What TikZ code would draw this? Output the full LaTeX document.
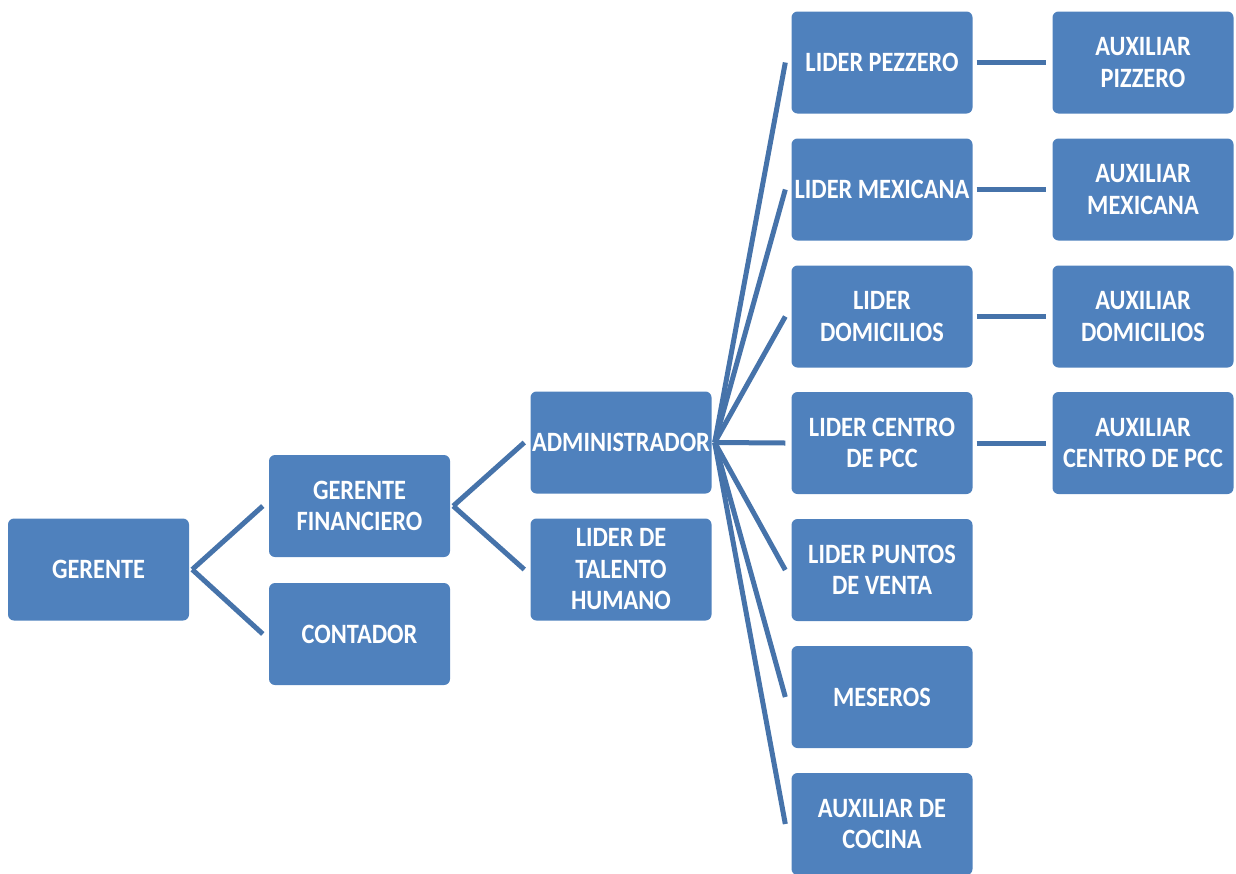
\documentclass[tikz,border=0pt]{standalone}
\usepackage{fontspec}
\newfontfamily\boxfont{Carlito}[FakeStretch=0.87]
\usetikzlibrary{calc}
\definecolor{boxblue}{HTML}{4F81BD}
\definecolor{linkblue}{HTML}{4673AA}
\tikzset{
  orgbox/.style={rectangle, rounded corners=6pt, fill=boxblue, draw=none,
    minimum width=181pt, minimum height=102pt, inner sep=0pt, text=white,
    align=center, font=\boxfont\bfseries\fontsize{28}{31.5}\selectfont},
  link/.style={draw=linkblue, line width=5pt}
}
\begin{document}
\begin{tikzpicture}[x=1pt,y=-1pt]
\useasboundingbox (0,0) rectangle (1236,873);
\clip (0,0) rectangle (1236,873);
% level 0-2
\node[orgbox] (ger) at (98.5,569.5) {GERENTE};
\node[orgbox] (gf) at (359.5,506) {GERENTE\\FINANCIERO};
\node[orgbox] (cont) at (359.5,634) {CONTADOR};
\node[orgbox] (adm) at (621,442.5) {ADMINISTRADOR};
\node[orgbox] (lth) at (621,569.5) {LIDER DE\\TALENTO\\HUMANO};
% column 3
\node[orgbox] (lp) at (882,62.5) {LIDER PEZZERO};
\node[orgbox] (lm) at (882,189.5) {LIDER MEXICANA};
\node[orgbox] (ld) at (882,316.5) {LIDER\\DOMICILIOS};
\node[orgbox] (lc) at (882,443) {LIDER CENTRO\\DE PCC};
\node[orgbox] (lpv) at (882,570) {LIDER PUNTOS\\DE VENTA};
\node[orgbox] (mes) at (882,697) {MESEROS};
\node[orgbox] (aco) at (882,824) {AUXILIAR DE\\COCINA};
% column 4
\node[orgbox] (ap) at (1143,62.5) {AUXILIAR\\PIZZERO};
\node[orgbox] (am) at (1143,189.5) {AUXILIAR\\MEXICANA};
\node[orgbox] (ad) at (1143,316.5) {AUXILIAR\\DOMICILIOS};
\node[orgbox] (ac) at (1143,443) {AUXILIAR\\CENTRO DE PCC};
% connectors
\foreach \a/\b in {ger/gf, ger/cont, gf/adm, gf/lth}
  \draw[link] ($(\a.east)+(3,0)$) -- ($(\b.west)+(-6,0)$);
\foreach \b in {lp, lm, ld, lc, lpv, mes, aco}
  \draw[link] ($(adm.east)+(3,0)$) -- ($(\b.west)+(-6,0)$);
\foreach \a/\b in {lp/ap, lm/am, ld/ad, lc/ac}
  \draw[link] ($(\a.east)+(4,0)$) -- ($(\b.west)+(-6,0)$);
\end{tikzpicture}
\end{document}
